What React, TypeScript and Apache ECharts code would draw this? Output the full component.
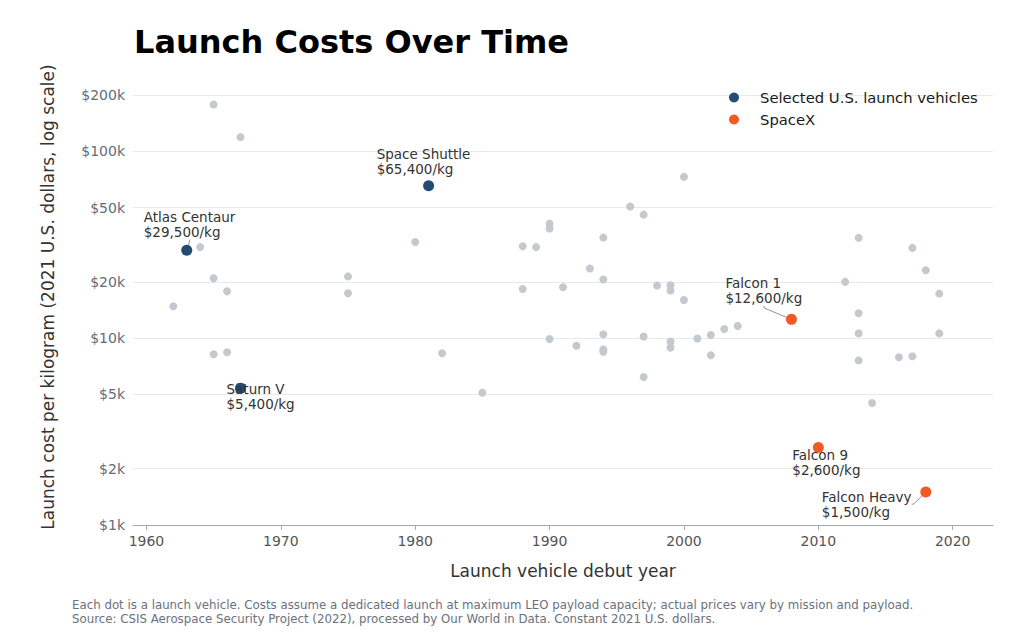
import React, { useEffect, useRef } from "react";
import * as echarts from "echarts";

// debut year and launch cost per kg (2021 USD), other vehicles
const otherYears = [
  1962, 1964, 1965, 1965, 1965, 1966, 1966, 1967, 1975, 1975, 1980, 1982, 1985,
  1988, 1988, 1989, 1990, 1990, 1990, 1991, 1992, 1993, 1994, 1994, 1994, 1994,
  1994, 1996, 1997, 1997, 1997, 1998, 1999, 1999, 1999, 1999, 2000, 2000, 2001,
  2002, 2002, 2003, 2004, 2012, 2013, 2013, 2013, 2013, 2014, 2016, 2017, 2017,
  2018, 2019, 2019,
];
const otherCosts = [
  14800, 30700, 178000, 20900, 8200, 17800, 8400, 119000, 21400, 17400, 32700, 8300, 5100,
  31000, 18300, 30700, 41000, 38600, 9900, 18700, 9100, 23600, 34500, 20600, 10500, 8700,
  8450, 50600, 45800, 10200, 6200, 19100, 19200, 18000, 9600, 8900, 72900, 16000, 9960,
  10400, 8100, 11200, 11600, 20000, 34400, 13600, 10600, 7600, 4500, 7900, 30400, 8000,
  23100, 17300, 10600,
];

const usNames = ["Atlas Centaur", "Saturn V", "Space Shuttle"];
const usYears = [1963, 1967, 1981];
const usCosts = [29500, 5400, 65400];

const spacexNames = ["Falcon 1", "Falcon 9", "Falcon Heavy"];
const spacexYears = [2008, 2010, 2018];
const spacexCosts = [12600, 2600, 1500];

const yTicks = [1000, 2000, 5000, 10000, 20000, 50000, 100000, 200000];
const xTicks = [1960, 1970, 1980, 1990, 2000, 2010, 2020];

// label offsets (top-left of label relative to the dot centre)
const usLabelOffsets = [[-43, -40.5], [-14, -6.5], [-52, -39]];
const usLabelLines = [true, false, false];
const spacexLabelOffsets = [[-66, -43.5], [-26, 0], [-104, -3]];
const spacexLabelLines = [true, false, true];

const FONT = "DejaVu Sans";
const BIG = 11;

const fmtMoney = (v: number) => "$" + v.toLocaleString("en-US");

const highlight = (
  names: string[], years: number[], costs: number[],
  offsets: number[][], lines: boolean[]
) =>
  names.map((n, i) => ({
    name: n,
    value: [years[i], Math.log10(costs[i])],
    label: {
      show: true,
      position: [offsets[i][0] + BIG / 2, offsets[i][1] + BIG / 2],
      formatter: n + "\n" + fmtMoney(costs[i]) + "/kg",
    },
    labelLine: { show: lines[i] },
  }));

const App: React.FC = () => {
  const chartRef = useRef<HTMLDivElement>(null);

  useEffect(() => {
    document.body.style.margin = "0";
    if (!chartRef.current) return;
    const chart = echarts.init(chartRef.current, null, { renderer: "svg" });

    const labelStyle = {
      fontFamily: FONT,
      fontSize: 13.5,
      lineHeight: 15,
      color: "#333",
      align: "left",
      verticalAlign: "top",
    };
    const lineStyle = { lineStyle: { color: "#777", width: 0.8 }, length: 2, length2: 2 };

    chart.setOption({
      animation: false,
      backgroundColor: "#fff",
      textStyle: { fontFamily: FONT },
      title: {
        text: "Launch Costs Over Time",
        left: 134,
        top: 26,
        padding: 0,
        textStyle: { fontFamily: FONT, fontSize: 32, fontWeight: "bold", color: "#000" },
      },
      legend: {
        data: ["Selected U.S. launch vehicles", "SpaceX"],
        orient: "vertical",
        left: 729,
        top: 90,
        padding: 0,
        itemWidth: 10,
        itemHeight: 10,
        itemGap: 7,
        icon: "circle",
        textStyle: { fontFamily: FONT, fontSize: 14.8, color: "#1a1a1a", padding: [0, 0, 0, 16] },
      },
      grid: { left: 133, right: 31, top: 95, bottom: 116 },
      xAxis: {
        type: "value",
        min: 1959,
        max: 2023,
        name: "Launch vehicle debut year",
        nameLocation: "middle",
        nameGap: 37,
        nameTextStyle: { fontFamily: FONT, fontSize: 17, color: "#333" },
        axisLine: { show: true, lineStyle: { color: "#a3a9b3", width: 1 } },
        axisTick: { show: true, customValues: xTicks, length: 5, lineStyle: { color: "#a3a9b3" } },
        axisLabel: {
          customValues: xTicks,
          margin: 9,
          fontFamily: FONT,
          fontSize: 14,
          color: "#555",
          formatter: (v: number) => String(v),
        },
        splitLine: { show: false },
      },
      yAxis: {
        type: "value",
        min: 3,
        max: Math.log10(200000),
        axisLine: { show: false },
        axisTick: { show: false, customValues: yTicks.map((v) => Math.log10(v)) },
        axisLabel: {
          customValues: yTicks.map((v) => Math.log10(v)),
          margin: 8,
          fontFamily: FONT,
          fontSize: 14,
          color: "#656c77",
          formatter: (v: number) => "$" + Math.round(Math.pow(10, v) / 1000) + "k",
        },
        splitLine: { show: true, lineStyle: { color: "#e6e8eb", width: 1 } },
      },
      graphic: [
        {
          type: "text",
          x: 48,
          y: 297,
          rotation: Math.PI / 2,
          style: {
            text: "Launch cost per kilogram (2021 U.S. dollars, log scale)",
            fontFamily: FONT,
            fontSize: 17,
            fill: "#333",
            align: "center",
            verticalAlign: "middle",
          },
        },
        {
          type: "text",
          x: 72,
          y: 605,
          style: {
            text: "Each dot is a launch vehicle. Costs assume a dedicated launch at maximum LEO payload capacity; actual prices vary by mission and payload.",
            fontFamily: FONT,
            fontSize: 11.8,
            fill: "#6b717b",
            verticalAlign: "middle",
          },
        },
        {
          type: "text",
          x: 72,
          y: 619,
          style: {
            text: "Source: CSIS Aerospace Security Project (2022), processed by Our World in Data. Constant 2021 U.S. dollars.",
            fontFamily: FONT,
            fontSize: 11.8,
            fill: "#6b717b",
            verticalAlign: "middle",
          },
        },
      ],
      series: [
        {
          name: "Other launch vehicles",
          type: "scatter",
          symbolSize: 8,
          itemStyle: { color: "#c4c9cf", opacity: 1 },
          data: otherYears.map((y, i) => [y, Math.log10(otherCosts[i])]),
          z: 1,
        },
        {
          name: "Selected U.S. launch vehicles",
          type: "scatter",
          symbolSize: BIG,
          itemStyle: { color: "#244b72", opacity: 1 },
          label: labelStyle,
          labelLine: lineStyle,
          data: highlight(usNames, usYears, usCosts, usLabelOffsets, usLabelLines),
          z: 3,
        },
        {
          name: "SpaceX",
          type: "scatter",
          symbolSize: BIG,
          itemStyle: { color: "#f15a24", opacity: 1 },
          label: labelStyle,
          labelLine: lineStyle,
          data: highlight(spacexNames, spacexYears, spacexCosts, spacexLabelOffsets, spacexLabelLines),
          z: 3,
        },
      ],
    });

    return () => {
      chart.dispose();
    };
  }, []);

  return <div ref={chartRef} style={{ width: 1024, height: 641 }} />;
};

export default App;
